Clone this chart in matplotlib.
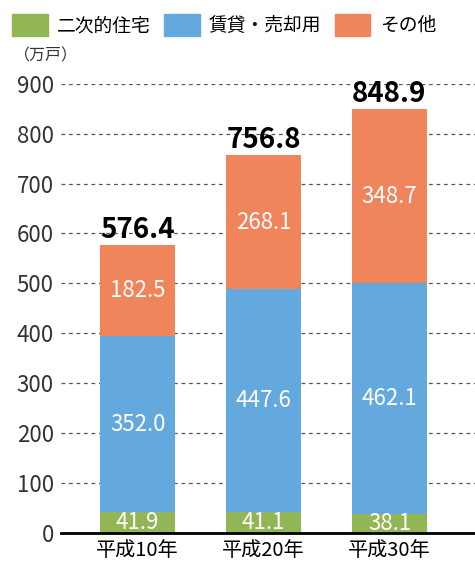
import matplotlib
matplotlib.use("Agg")
import matplotlib.pyplot as plt
from matplotlib.patches import Patch
import numpy as np

plt.rcParams['font.family'] = ['Noto Sans CJK JP', 'DejaVu Sans']

categories = ["平成10年", "平成20年", "平成30年"]
series_names = ["二次的住宅", "賃貸・売却用", "その他"]
secondary = [41.9, 41.1, 38.1]
rental = [352.0, 447.6, 462.1]
other = [182.5, 268.1, 348.7]
totals = [576.4, 756.8, 848.9]
colors = ["#92B556", "#64A9DD", "#F0855C"]

fig = plt.figure(figsize=(4.75, 5.64), dpi=100)
ax = fig.add_axes([0.128, 0.0555, 0.872, 0.796])

x = np.arange(len(categories))
w = 0.6
bottom = np.zeros(len(categories))
for vals, c in zip([secondary, rental, other], colors):
    ax.bar(x, vals, w, bottom=bottom, color=c, zorder=3)
    for xi, b, v in zip(x, bottom, vals):
        ax.text(xi, b + v / 2, f"{v:.1f}", ha="center", va="center",
                color="white", fontsize=16, zorder=4)
    bottom += np.array(vals)

for xi, t in zip(x, totals):
    ax.text(xi, t + 2, f"{t:.1f}", ha="center", va="bottom",
            fontsize=20, fontweight="bold", color="black", clip_on=False)

ax.set_xlim(-0.61, 2.68)
ax.set_ylim(0, 900)
ax.set_yticks(range(0, 901, 100))
ax.set_xticks(x)
ax.set_xticklabels(categories, fontsize=14.5)
ax.tick_params(axis="y", labelsize=16, length=0, pad=5, colors="#333333")
ax.tick_params(axis="x", length=0, pad=5)
ax.yaxis.grid(True, linestyle=(0, (3, 3)), color="#555555", linewidth=0.9, zorder=0)
for s in ["left", "right", "top"]:
    ax.spines[s].set_visible(False)
ax.spines["bottom"].set_linewidth(2)
ax.spines["bottom"].set_zorder(5)

fig.text(0.03, 0.9, "（万戸）", fontsize=11.5, color="#333333", va="center")

handles = [Patch(color=c) for c in colors]
fig.legend(handles, series_names, loc="upper left", bbox_to_anchor=(-0.01, 1.005),
           ncol=3, frameon=False, fontsize=13.5, handlelength=1.9, handleheight=1.4,
           columnspacing=0.7, handletextpad=0.5)

fig.savefig("out.png", dpi=100)
